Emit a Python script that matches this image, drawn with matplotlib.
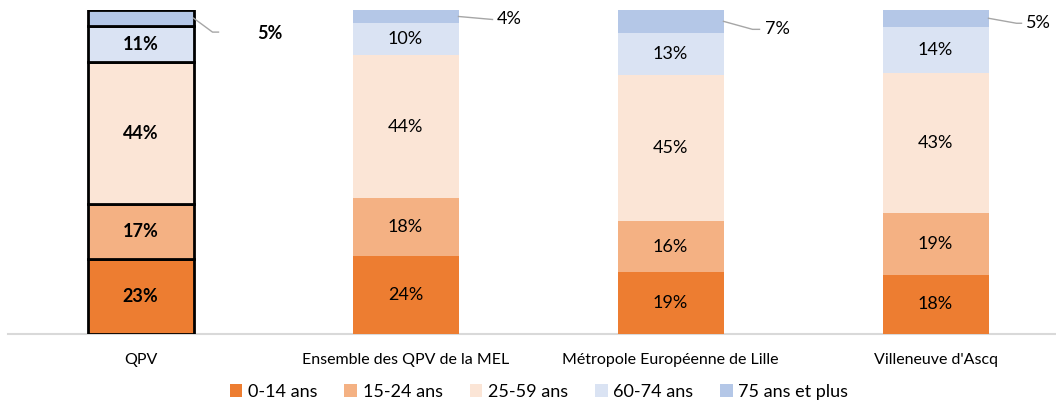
import numpy as np
import matplotlib.pyplot as plt
from matplotlib.patches import Patch

plt.rcParams['font.family'] = ['Lato', 'DejaVu Sans']

# === Data ===
categories = ["QPV", "Ensemble des QPV de la MEL", "Métropole Européenne de Lille", "Villeneuve d'Ascq"]
age_groups = ["0-14 ans", "15-24 ans", "25-59 ans", "60-74 ans", "75 ans et plus"]
v_0_14 = [23, 24, 19, 18.3]
v_15_24 = [17, 18, 16, 19.0]
v_25_59 = [44, 44, 45, 43.4]
v_60_74 = [11, 10, 13, 14.2]
v_75 = [5, 4, 7, 5.1]
series = [v_0_14, v_15_24, v_25_59, v_60_74, v_75]

colors = ['#ED7D31', '#F4B183', '#FBE5D6', '#DAE3F3', '#B4C7E7']

# leader line offsets in pixels (elbow, end, label) for the top segment labels
leader_offsets = [
    ((19, -14), (25, -14), (64, -15)),
    ((34, -3), (34, -3), (38, -3)),
    ((29, -8), (36, -8), (41, -8)),
    ((28, -5), (33, -5), (37, -5)),
]

# === Plot ===
W, H = 1056, 407
fig = plt.figure(figsize=(W / 100, H / 100), dpi=100)
ax = fig.add_axes([8 / W, 73 / H, 1048 / W, 324 / H])

x = np.arange(len(categories))
width = 0.4
bottom = np.zeros(len(categories))
for k, (vals, col) in enumerate(zip(series, colors)):
    vals = np.array(vals, dtype=float)
    bars = ax.bar(x, vals, width, bottom=bottom, color=col, zorder=2)
    # QPV bar gets a black outline
    bars[0].set_edgecolor('black')
    bars[0].set_linewidth(2)
    if k < len(series) - 1:
        for i in range(len(categories)):
            ax.text(x[i], bottom[i] + vals[i] / 2, f"{round(vals[i])}%",
                    ha='center', va='center', fontsize=13,
                    fontweight='bold' if i == 0 else 'normal', color='black', zorder=3)
    bottom += vals

ax.set_xlim(-0.5, -0.5 + 1048 / 265)
ax.set_ylim(0, 100)

fig.canvas.draw()

# top segment labels with leader lines
top_vals = series[-1]
for i in range(len(categories)):
    anchor_y = bottom[i] - top_vals[i] / 2
    px, py = ax.transData.transform((x[i] + width / 2, anchor_y))
    (ex, ey), (nx, ny), (lx, ly) = leader_offsets[i]
    xs = np.array([px, px + ex, px + nx]) / W
    ys = np.array([py, py + ey, py + ny]) / H
    fig.add_artist(plt.Line2D(xs, ys, color='#A6A6A6', lw=1, transform=fig.transFigure))
    fig.text((px + lx) / W, (py + ly) / H, f"{round(top_vals[i])}%", ha='left', va='center',
             fontsize=13, fontweight='bold' if i == 0 else 'normal')

ax.set_xticks(x)
ax.set_xticklabels(categories, fontsize=11.5)
ax.tick_params(axis='x', length=0, pad=14)
ax.set_yticks([])
for s in ['top', 'right', 'left']:
    ax.spines[s].set_visible(False)
ax.spines['bottom'].set_color('#D9D9D9')
ax.spines['bottom'].set_linewidth(1.5)
ax.spines['bottom'].set_zorder(1)

handles = [Patch(facecolor=c, edgecolor='none') for c in colors]
leg = fig.legend(handles, age_groups, loc='center', bbox_to_anchor=(539 / W, 1 - 392 / H),
                 ncol=5, frameon=False, fontsize=13, handlelength=0.7, handleheight=0.7,
                 handletextpad=0.3, columnspacing=1.5)

fig.savefig('out.png', dpi=100)
